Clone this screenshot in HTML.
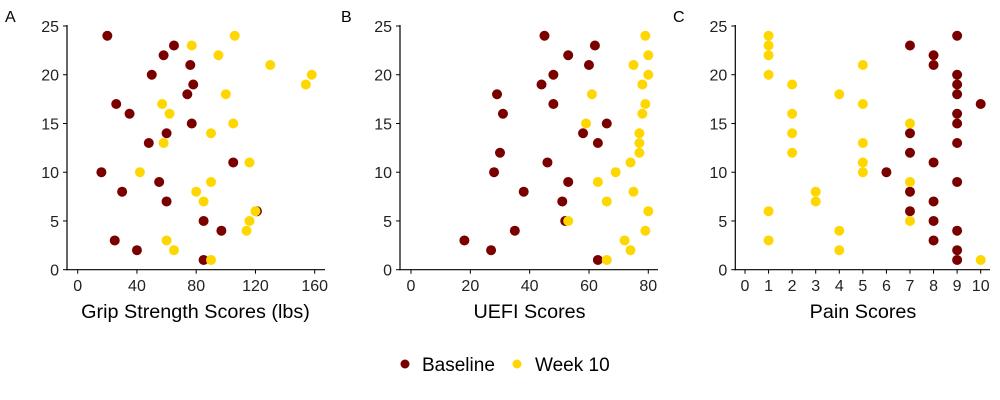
<!DOCTYPE html>
<html><head><meta charset="utf-8">
<style>
body{margin:0;background:#fff;}
svg{display:block;font-family:"Liberation Sans",Arial,sans-serif;}
</style></head>
<body>
<svg id="chart" width="1000" height="400" viewBox="0 0 1000 400"></svg>
<script>
const yTicks = [0,5,10,15,20,25];
const gripTicks = [0,40,80,120,160];
const uefiTicks = [0,20,40,60,80];
const painTicks = [0,1,2,3,4,5,6,7,8,9,10];

const gripBaseY = [24,23,22,21,20,19,18,17,16,15,14,13,11,10,9,8,7,6,5,4,3,2,1];
const gripBaseX = [20,65,58,76,50,78,74,26,35,77,60,48,105,16,55,30,60,121,85,97,25,40,85];
const gripWk10Y = [24,23,22,21,20,19,18,17,16,15,14,13,11,10,9,8,7,6,5,4,3,2,1];
const gripWk10X = [106,77,95,130,158,154,100,57,62,105,90,58,116,42,90,80,85,120,116,114,60,65,90];

const uefiBaseY = [24,23,22,21,20,19,18,17,16,15,14,13,12,11,10,9,8,7,5,4,3,2,1];
const uefiBaseX = [45,62,53,60,48,44,29,48,31,66,58,63,30,46,28,53,38,51,52,35,18,27,63];
const uefiWk10Y = [24,22,21,20,19,18,17,16,15,14,13,12,11,10,9,8,7,6,5,4,3,2,1];
const uefiWk10X = [79,80,75,80,78,61,79,78,59,77,77,77,74,69,63,75,66,80,53,79,72,74,66];

const painBaseY = [23,22,21,24,20,19,18,17,16,15,14,13,12,11,10,9,8,7,6,5,4,3,2,1];
const painBaseX = [7,8,8,9,9,9,9,10,9,9,7,9,7,8,6,9,7,8,7,8,9,8,9,9];
const painWk10Y = [24,23,22,20,21,19,18,17,16,15,14,13,12,11,10,9,8,7,6,5,4,3,2,1];
const painWk10X = [1,1,1,1,5,2,4,5,2,7,2,5,2,5,5,7,3,3,1,7,4,1,4,10];

const NS = "http://www.w3.org/2000/svg";
const svg = document.getElementById('chart');
function mk(tag, attrs, parent){
  const e = document.createElementNS(NS, tag);
  for (const k in attrs) e.setAttribute(k, attrs[k]);
  (parent||svg).appendChild(e);
  return e;
}
const DARK = "#7a0000", GOLD = "#ffd700";
const Y0 = 269.7, Y25 = 26;
const yScale = v => Y0 - (Y0 - Y25) * v / 25;

const panels = [
  {id:'grip', letter:'A', lx:5, axisX:67, axisEnd:325, x0:77.7, x1:314.7, dmin:0, dmax:160, ticks:gripTicks, title:'Grip Strength Scores (lbs)', tc:195.5,
   bx:gripBaseX, by:gripBaseY, wx:gripWk10X, wy:gripWk10Y},
  {id:'uefi', letter:'B', lx:341, axisX:400, axisEnd:658, x0:411, x1:648.3, dmin:0, dmax:80, ticks:uefiTicks, title:'UEFI Scores', tc:529.5,
   bx:uefiBaseX, by:uefiBaseY, wx:uefiWk10X, wy:uefiWk10Y},
  {id:'pain', letter:'C', lx:673, axisX:735.3, axisEnd:990, x0:745, x1:980.7, dmin:0, dmax:10, ticks:painTicks, title:'Pain Scores', tc:863,
   bx:painBaseX, by:painBaseY, wx:painWk10X, wy:painWk10Y}
];

panels.forEach(p => {
  const g = mk('g', {});
  
  
  const xs = v => p.x0 + (p.x1 - p.x0) * (v - p.dmin) / (p.dmax - p.dmin);
  const lab = mk('text', {x:p.lx, y:22, 'font-size':16, fill:'#000'}, g);
  lab.textContent = p.letter;
  
  
  const ya = mk('line', {x1:p.axisX, y1:Y25-1, x2:p.axisX, y2:Y0+0.5, stroke:'#000', 'stroke-width':1.2}, g);
  
  
  const xa = mk('line', {x1:p.axisX-0.6, y1:Y0, x2:p.axisEnd, y2:Y0, stroke:'#000', 'stroke-width':1.2}, g);
  
  
  yTicks.forEach(t => {
    const y = yScale(t);
    mk('line', {x1:p.axisX-4, y1:y, x2:p.axisX, y2:y, stroke:'#000', 'stroke-width':1}, g);
    const tx = mk('text', {x:p.axisX-8, y:y+6, 'font-size':16, 'text-anchor':'end', fill:'#222'}, g);
    tx.textContent = t;
    
    
  });
  p.ticks.forEach(t => {
    const x = xs(t);
    mk('line', {x1:x, y1:Y0, x2:x, y2:Y0+4, stroke:'#000', 'stroke-width':1}, g);
    const tx = mk('text', {x:x, y:291, 'font-size':16, 'text-anchor':'middle', fill:'#222'}, g);
    tx.textContent = t;
    
    
  });
  const ttl = mk('text', {x:p.tc, y:318, 'font-size':19.8, 'text-anchor':'middle', fill:'#000'}, g);
  ttl.textContent = p.title;
  
  
  p.bx.forEach((v,i) => {
    const c = mk('circle', {cx:xs(v), cy:yScale(p.by[i]), r:5, fill:DARK}, g);
    
    
  });
  p.wx.forEach((v,i) => {
    const c = mk('circle', {cx:xs(v), cy:yScale(p.wy[i]), r:5, fill:GOLD}, g);
    
    
  });
});

const lg = mk('g', {});


const l1 = mk('circle', {cx:405, cy:364, r:4.5, fill:DARK}, lg);


const t1 = mk('text', {x:422, y:371, 'font-size':19, fill:'#000'}, lg);
t1.textContent = 'Baseline';


const l2 = mk('circle', {cx:517, cy:364, r:4.5, fill:GOLD}, lg);


const t2 = mk('text', {x:535, y:371, 'font-size':19, fill:'#000'}, lg);
t2.textContent = 'Week 10';


</script>
</body></html>
